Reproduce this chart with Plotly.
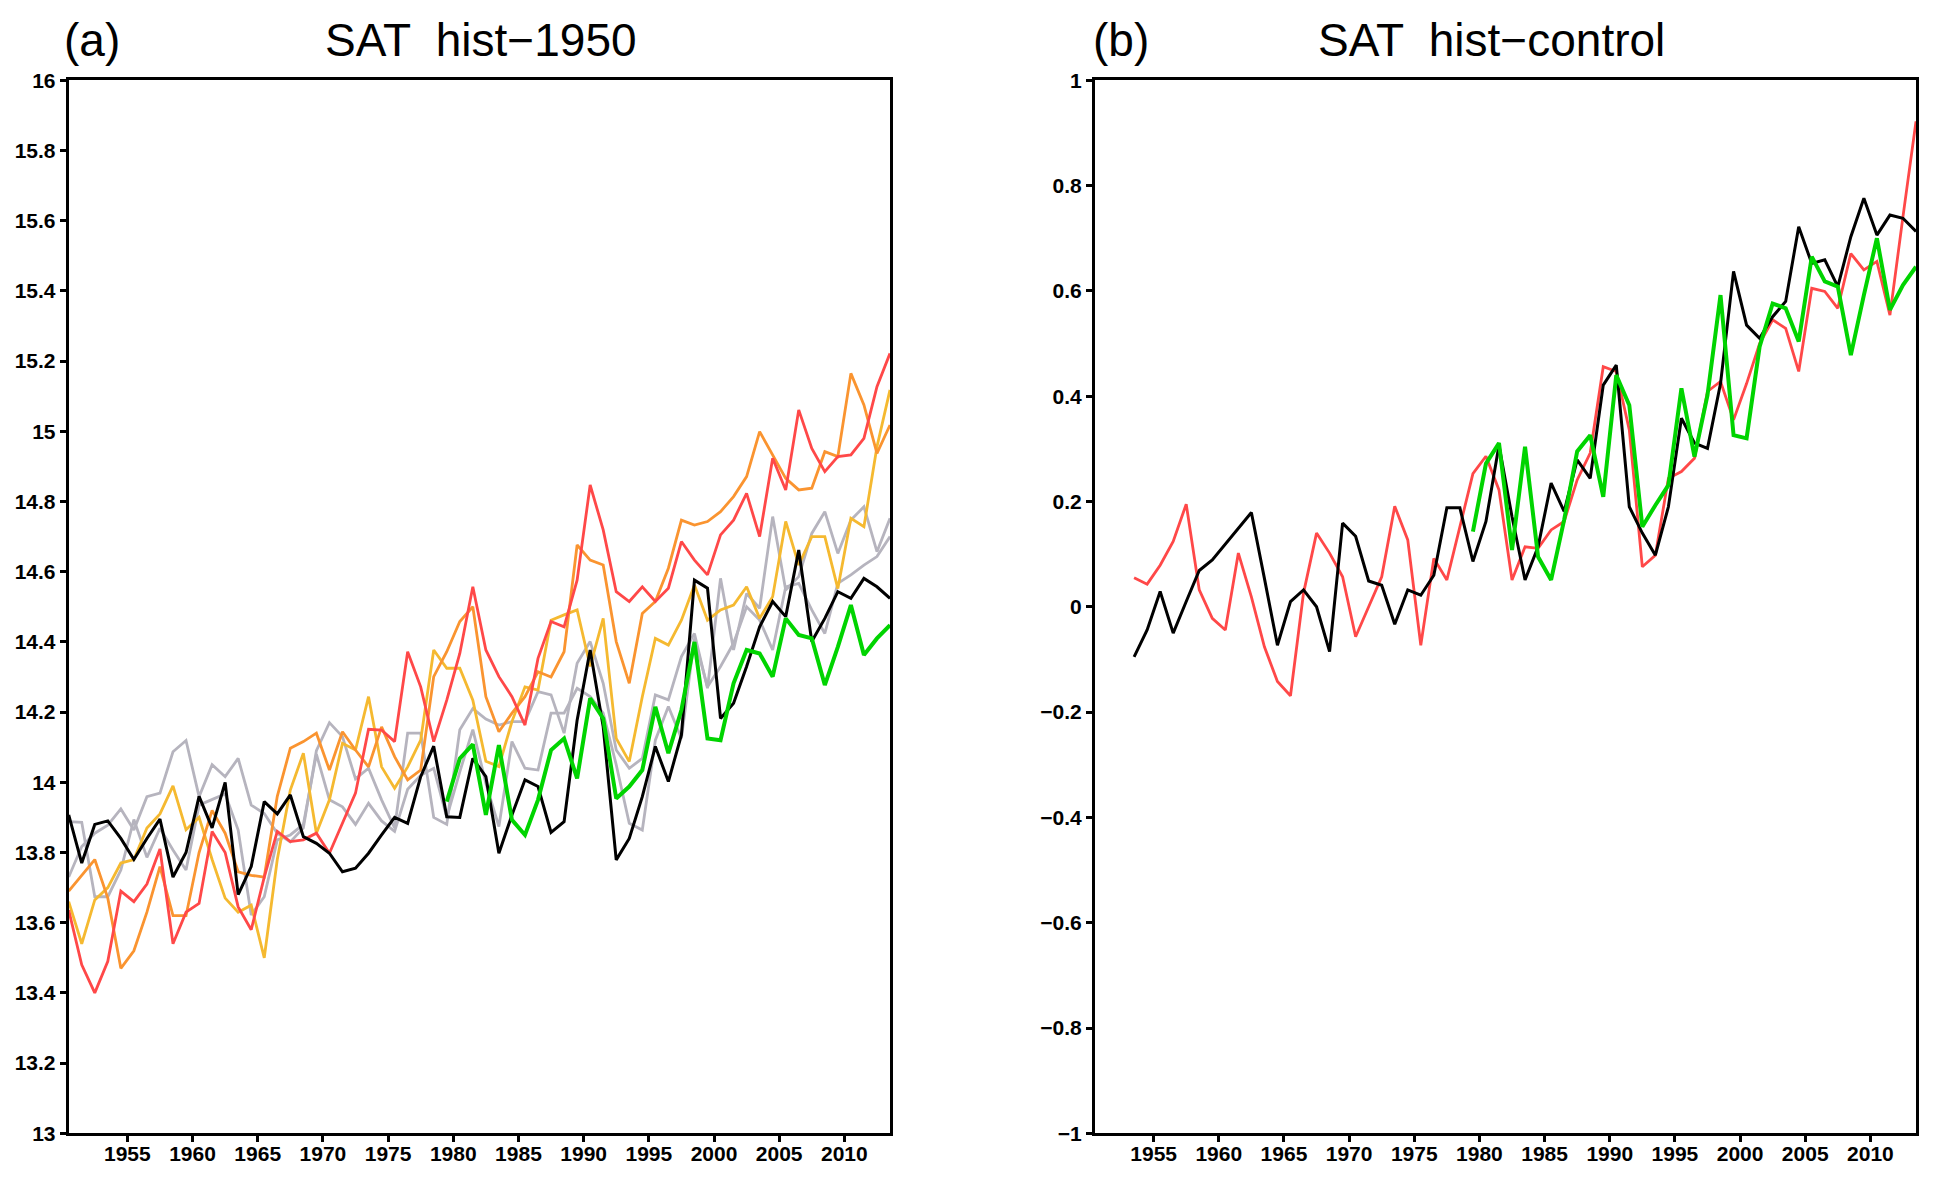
import plotly.graph_objects as go

# ---------------- data ----------------
years_a = [1950.5 + k for k in range(64)]          # 1950.5 ... 2013.5
years_b = [1953.5 + k for k in range(61)]          # 1953.5 ... 2013.5
years_green = [1979.5 + k for k in range(35)]      # 1979.5 ... 2013.5

a_black = [13.907, 13.77, 13.88, 13.89, 13.84, 13.78, 13.84, 13.895, 13.73, 13.80,
           13.96, 13.87, 14.0, 13.68, 13.76, 13.945, 13.91, 13.964, 13.845, 13.826,
           13.798, 13.745, 13.755, 13.798, 13.85, 13.90, 13.883, 14.016, 14.103, 13.902,
           13.90, 14.068, 14.016, 13.798, 13.907, 14.007, 13.988, 13.857, 13.888, 14.177,
           14.377, 14.158, 13.779, 13.84, 13.959, 14.102, 14.002, 14.135, 14.576, 14.553,
           14.182, 14.225, 14.33, 14.443, 14.515, 14.472, 14.662, 14.401, 14.467, 14.543,
           14.524, 14.581, 14.557, 14.524]

a_green = [13.945, 14.068, 14.108, 13.907, 14.106, 13.893, 13.85, 13.95, 14.092, 14.125,
           14.011, 14.239, 14.182, 13.954, 13.988, 14.035, 14.215, 14.083, 14.206, 14.40,
           14.125, 14.12, 14.282, 14.377, 14.367, 14.301, 14.467, 14.42, 14.41, 14.277,
           14.386, 14.505, 14.363, 14.41, 14.448]

a_red = [13.636, 13.48, 13.40, 13.49, 13.69, 13.66, 13.71, 13.81, 13.54, 13.63,
         13.655, 13.86, 13.80, 13.645, 13.58, 13.73, 13.86, 13.831, 13.836, 13.855,
         13.798, 13.883, 13.969, 14.151, 14.149, 14.116, 14.372, 14.272, 14.116, 14.234,
         14.367, 14.557, 14.377, 14.301, 14.244, 14.163, 14.353, 14.458, 14.443, 14.576,
         14.847, 14.719, 14.543, 14.515, 14.557, 14.515, 14.553, 14.686, 14.633, 14.591,
         14.705, 14.747, 14.823, 14.70, 14.923, 14.833, 15.061, 14.951, 14.885, 14.928,
         14.933, 14.98, 15.127, 15.222]

a_orange = [13.69, 13.735, 13.78, 13.67, 13.47, 13.52, 13.63, 13.76, 13.62, 13.62,
            13.80, 13.92, 13.855, 13.745, 13.735, 13.73, 13.96, 14.097, 14.116, 14.14,
            14.035, 14.144, 14.092, 14.044, 14.158, 14.073, 14.007, 14.035, 14.301, 14.372,
            14.458, 14.5, 14.244, 14.144, 14.197, 14.244, 14.315, 14.30, 14.372, 14.676,
            14.633, 14.619, 14.401, 14.282, 14.481, 14.515, 14.61, 14.747, 14.733, 14.743,
            14.771, 14.814, 14.871, 14.999, 14.932, 14.866, 14.833, 14.838, 14.942, 14.928,
            15.165, 15.075, 14.937, 15.018]

a_yellow = [13.66, 13.54, 13.665, 13.70, 13.77, 13.78, 13.87, 13.91, 13.99, 13.865,
            13.90, 13.78, 13.67, 13.63, 13.65, 13.50, 13.78, 13.978, 14.083, 13.855,
            13.95, 14.111, 14.092, 14.244, 14.044, 13.983, 14.044, 14.12, 14.377, 14.325,
            14.325, 14.234, 14.06, 14.045, 14.173, 14.272, 14.263, 14.462, 14.477, 14.491,
            14.33, 14.467, 14.125, 14.059, 14.244, 14.41, 14.391, 14.462, 14.562, 14.462,
            14.491, 14.505, 14.557, 14.467, 14.529, 14.743, 14.619, 14.70, 14.70, 14.552,
            14.752, 14.728, 14.956, 15.118]

a_gray1 = [13.73, 13.817, 13.855, 13.878, 13.924, 13.864, 13.959, 13.969, 14.087, 14.119,
           13.959, 14.05, 14.016, 14.068, 13.935, 13.911, 13.855, 13.83, 13.87, 14.09,
           14.17, 14.13, 14.01, 14.04, 13.95, 13.87, 14.14, 14.14, 13.90, 13.88,
           14.15, 14.21, 14.18, 14.163, 14.173, 14.173, 14.258, 14.249, 14.14, 14.339,
           14.401, 14.282, 14.092, 14.04, 14.068, 14.249, 14.235, 14.358, 14.424, 14.268,
           14.581, 14.377, 14.538, 14.496, 14.757, 14.548, 14.586, 14.709, 14.771, 14.652,
           14.747, 14.785, 14.657, 14.752]

a_gray2 = [13.888, 13.886, 13.674, 13.674, 13.75, 13.894, 13.786, 13.869, 13.807, 13.75,
           13.935, 13.95, 13.967, 13.864, 13.622, 13.674, 13.836, 13.85, 13.88, 14.08,
           13.95, 13.93, 13.88, 13.94, 13.89, 13.86, 13.98, 14.02, 14.04, 13.90,
           14.03, 14.15, 13.997, 13.874, 14.116, 14.04, 14.035, 14.197, 14.197, 14.268,
           14.244, 14.197, 14.05, 13.883, 13.864, 14.12, 14.216, 14.125, 14.41, 14.272,
           14.33, 14.396, 14.5, 14.462, 14.377, 14.557, 14.567, 14.491, 14.424, 14.567,
           14.591, 14.619, 14.643, 14.70]

b_black = [-0.095, -0.044, 0.029, -0.050, 0.010, 0.069, 0.089, 0.119, 0.149, 0.179,
           0.054, -0.073, 0.010, 0.032, 0.000, -0.085, 0.159, 0.134, 0.049, 0.041,
           -0.033, 0.032, 0.022, 0.060, 0.188, 0.188, 0.086, 0.162, 0.307, 0.171,
           0.051, 0.114, 0.235, 0.181, 0.279, 0.244, 0.421, 0.459, 0.190, 0.140,
           0.098, 0.190, 0.358, 0.311, 0.301, 0.424, 0.637, 0.535, 0.510, 0.551,
           0.580, 0.722, 0.652, 0.659, 0.608, 0.703, 0.776, 0.706, 0.744, 0.738,
           0.713]

b_red = [0.055, 0.043, 0.079, 0.124, 0.195, 0.032, -0.022, -0.044, 0.102, 0.019,
         -0.076, -0.142, -0.169, 0.026, 0.14, 0.102, 0.057, -0.057, 0.000, 0.057,
         0.191, 0.127, -0.073, 0.092, 0.051, 0.152, 0.253, 0.286, 0.222, 0.051,
         0.114, 0.111, 0.146, 0.162, 0.241, 0.292, 0.456, 0.447, 0.336, 0.076,
         0.098, 0.244, 0.257, 0.282, 0.409, 0.428, 0.355, 0.424, 0.500, 0.545,
         0.529, 0.447, 0.605, 0.599, 0.567, 0.671, 0.640, 0.656, 0.554, 0.741,
         0.922]

b_green = [0.143, 0.272, 0.311, 0.108, 0.304, 0.095, 0.051, 0.165, 0.295, 0.326,
           0.209, 0.440, 0.383, 0.152, 0.193, 0.231, 0.415, 0.285, 0.402, 0.592,
           0.326, 0.320, 0.494, 0.576, 0.567, 0.504, 0.665, 0.618, 0.608, 0.478,
           0.592, 0.700, 0.564, 0.611, 0.646]

x_ticks = [1955, 1960, 1965, 1970, 1975, 1980, 1985, 1990, 1995, 2000, 2005, 2010]
ya_ticks = [13, 13.2, 13.4, 13.6, 13.8, 14, 14.2, 14.4, 14.6, 14.8, 15, 15.2, 15.4, 15.6, 15.8, 16]
yb_ticks = [-1, -0.8, -0.6, -0.4, -0.2, 0, 0.2, 0.4, 0.6, 0.8, 1]

# ---------------- styles ----------------
C_RED = "#FF4848"
C_ORANGE = "#FA9430"
C_YELLOW = "#F5B930"
C_GRAY = "#B6B4BE"
C_GREEN = "#00D400"
C_BLACK = "#000000"

W, H = 1938, 1178
OFF = 8  # page body offset
xa_dom = [(68.7 - OFF) / W, (890 - OFF) / W]
xb_dom = [(1095 - OFF) / W, (1916 - OFF) / W]
y_dom = [1 - (1133.3 - OFF) / H, 1 - (80.3 - OFF) / H]

fig = go.Figure()

def add(x, y, color, width, xa, ya):
    fig.add_trace(go.Scatter(x=x, y=y, mode="lines", xaxis=xa, yaxis=ya,
                             line=dict(color=color, width=width),
                             showlegend=False, hoverinfo="skip"))

# panel (a)
add(years_a, a_gray2, C_GRAY, 2.8, "x", "y")
add(years_a, a_gray1, C_GRAY, 2.8, "x", "y")
add(years_a, a_yellow, C_YELLOW, 2.8, "x", "y")
add(years_a, a_orange, C_ORANGE, 2.8, "x", "y")
add(years_a, a_red, C_RED, 2.8, "x", "y")
add(years_a, a_black, C_BLACK, 3.0, "x", "y")
add(years_green, a_green, C_GREEN, 4.0, "x", "y")

# panel (b)
add(years_b, b_red, C_RED, 2.8, "x2", "y2")
add(years_b, b_black, C_BLACK, 3.0, "x2", "y2")
add(years_green, b_green, C_GREEN, 4.0, "x2", "y2")

tick_font = dict(family="Liberation Sans, Arial, sans-serif", size=21, color="black", weight="bold")

xcommon = dict(range=[1950.5, 2013.5], tickvals=x_ticks, ticktext=[str(t) for t in x_ticks],
               showline=True, linecolor="black", linewidth=3, mirror=True,
               ticks="outside", ticklen=6, tickwidth=2.5, tickcolor="black",
               ticklabelstandoff=-7,
               showgrid=False, zeroline=False, tickfont=tick_font, automargin=False)
ycommon = dict(showline=True, linecolor="black", linewidth=3, mirror=True,
               ticks="outside", ticklen=6, tickwidth=2.5, tickcolor="black",
               showgrid=False, zeroline=False, tickfont=tick_font, automargin=False)

fig.update_layout(
    width=W, height=H,
    margin=dict(l=0, r=0, t=0, b=0),
    paper_bgcolor="white", plot_bgcolor="white",
    xaxis=dict(domain=xa_dom, anchor="y", **xcommon),
    yaxis=dict(domain=y_dom, anchor="x", range=[13, 16], tickvals=ya_ticks,
               ticktext=[f"{v:g}" for v in ya_ticks], **ycommon),
    xaxis2=dict(domain=xb_dom, anchor="y2", **xcommon),
    yaxis2=dict(domain=y_dom, anchor="x2", range=[-1, 1], tickvals=yb_ticks,
                ticktext=[f"{v:g}".replace("-", "\u2212") if v != 0 else "0" for v in yb_ticks], **ycommon),
)

title_font = dict(family="Liberation Sans, Arial, sans-serif", size=46, color="black")
ty = 1 - (40 - OFF) / H
fig.add_annotation(text="(a)", x=(62 - OFF) / W, y=ty, xref="paper", yref="paper",
                   xanchor="left", yanchor="middle", showarrow=False, font=title_font)
fig.add_annotation(text="SAT  hist\u22121950", x=(481 - OFF) / W, y=ty, xref="paper", yref="paper",
                   xanchor="center", yanchor="middle", showarrow=False, font=title_font)
fig.add_annotation(text="(b)", x=(1091 - OFF) / W, y=ty, xref="paper", yref="paper",
                   xanchor="left", yanchor="middle", showarrow=False, font=title_font)
fig.add_annotation(text="SAT  hist\u2212control", x=(1491 - OFF) / W, y=ty, xref="paper", yref="paper",
                   xanchor="center", yanchor="middle", showarrow=False, font=title_font)

fig.write_html("out.html")
